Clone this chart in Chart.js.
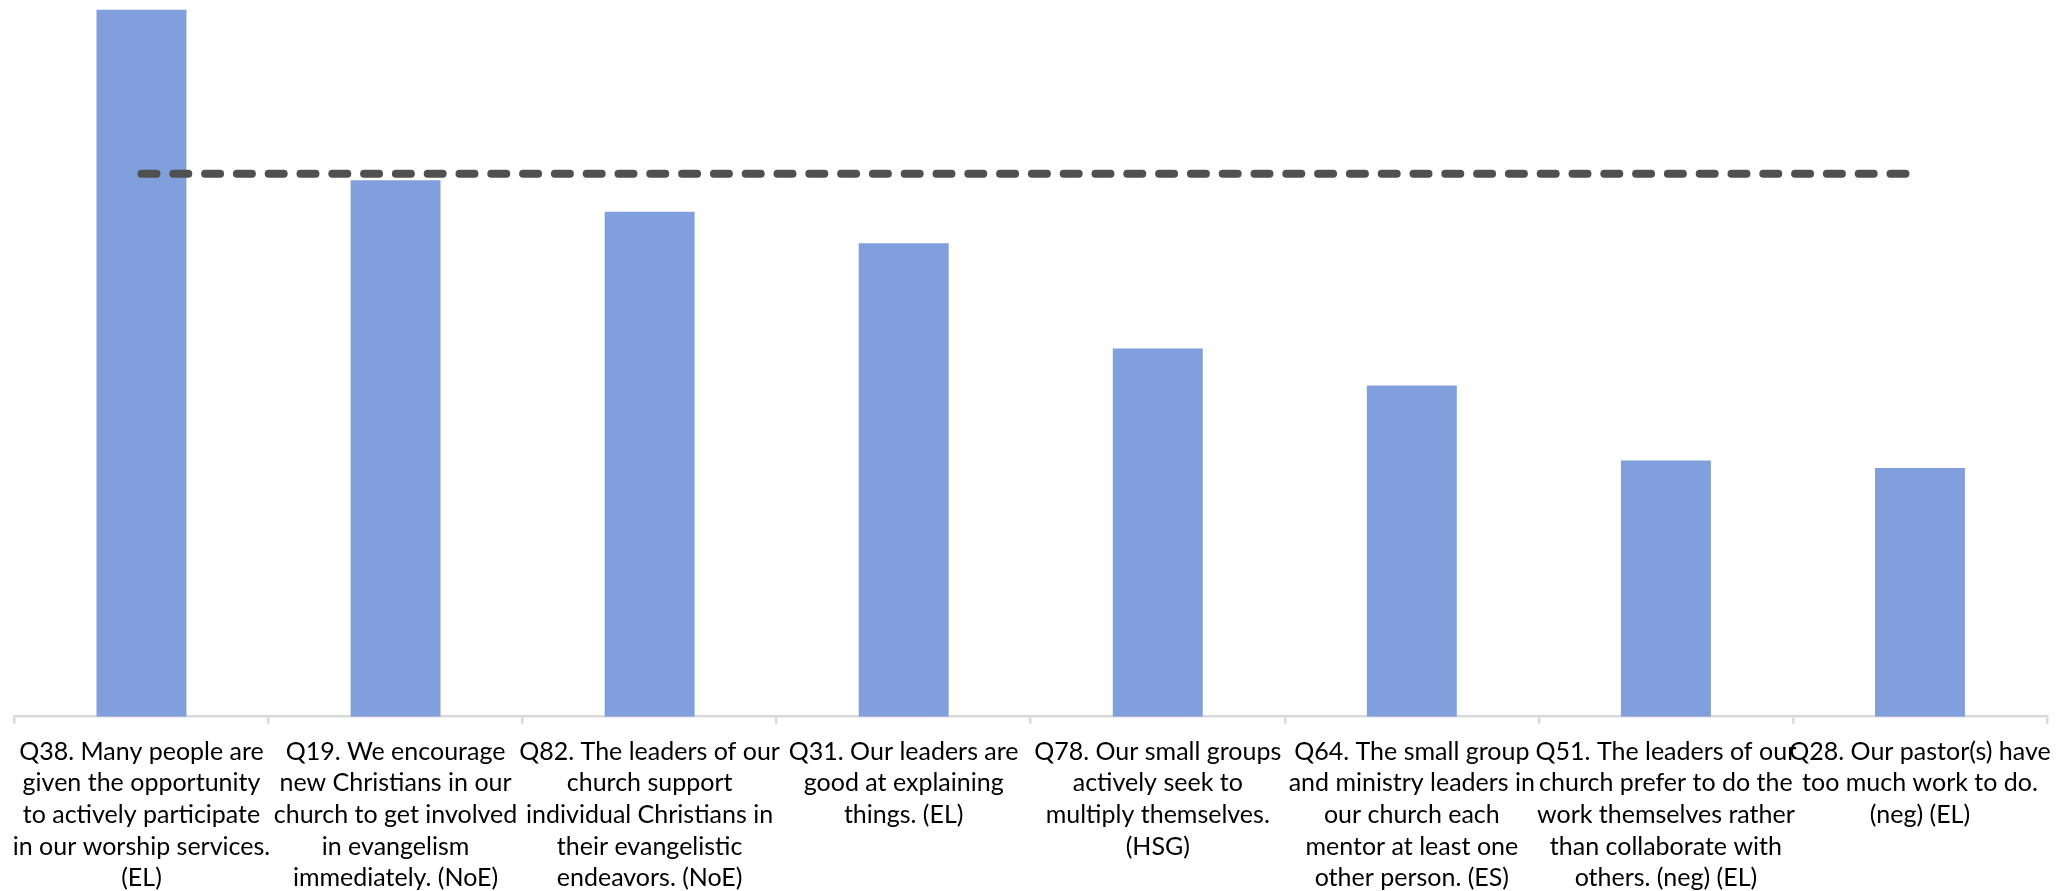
<!DOCTYPE html>
<html>
<head>
<meta charset="utf-8">
<script src="https://cdn.jsdelivr.net/npm/chart.js@4/dist/chart.umd.min.js"></script>
<style>
  html, body { margin: 0; padding: 0; background: #ffffff; }
  #wrap { width: 2067px; height: 891px; position: relative; }
</style>
</head>
<body>
<div id="wrap"><canvas id="c"></canvas></div>
<script>
const categories = [
  ["Q38. Many people are", "given the opportunity", "to actively participate", "in our worship services.", "(EL)"],
  ["Q19. We encourage", "new Christians in our", "church to get involved", "in evangelism", "immediately. (NoE)"],
  ["Q82. The leaders of our", "church support", "individual Christians in", "their evangelistic", "endeavors. (NoE)"],
  ["Q31. Our leaders are", "good at explaining", "things. (EL)"],
  ["Q78. Our small groups", "actively seek to", "multiply themselves.", "(HSG)"],
  ["Q64. The small group", "and ministry leaders in", "our church each", "mentor at least one", "other person. (ES)"],
  ["Q51. The leaders of our", "church prefer to do the", "work themselves rather", "than collaborate with", "others. (neg) (EL)"],
  ["Q28. Our pastor(s) have", "too much work to do.", "(neg) (EL)"]
];
const scores = [65.1, 49.4, 46.5, 43.6, 33.9, 30.5, 23.6, 22.9];
const benchmark = [50, 50, 50, 50, 50, 50, 50, 50];

new Chart(document.getElementById('c'), {
  data: {
    labels: categories,
    datasets: [
      {
        type: 'line',
        data: benchmark,
        borderColor: '#505050',
        borderWidth: 8,
        borderDash: [15, 16.8],
        borderCapStyle: 'round',
        pointRadius: 0,
        fill: false,
        order: 0
      },
      {
        type: 'bar',
        data: scores,
        backgroundColor: '#819EDD',
        borderWidth: 0,
        barPercentage: 0.354,
        categoryPercentage: 1.0,
        order: 1
      }
    ]
  },
  options: {
    responsive: true,
    maintainAspectRatio: false,
    animation: false,
    layout: { padding: { left: 12, right: 20, top: 0, bottom: 0 } },
    plugins: { legend: { display: false }, tooltip: { enabled: false } },
    scales: {
      x: {
        offset: true,
        grid: {
          offset: true,
          drawOnChartArea: false,
          drawTicks: true,
          tickLength: 7,
          color: '#d9d9d9',
          lineWidth: 2.5
        },
        border: { display: true, color: '#d9d9d9', width: 2.5 },
        ticks: {
          autoSkip: false,
          maxRotation: 0,
          minRotation: 0,
          padding: 12,
          color: '#000000',
          font: { family: 'Lato, "Open Sans", sans-serif', size: 25, lineHeight: 1.268 }
        },
        afterFit(scale) { scale.height = 174.3; }
      },
      y: {
        display: false,
        min: 0,
        max: 66
      }
    }
  }
});
</script>
</body>
</html>
